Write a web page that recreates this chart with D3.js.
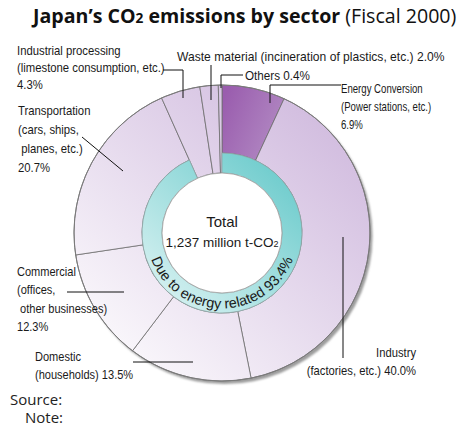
<!DOCTYPE html>
<html>
<head>
<meta charset="utf-8">
<script src="https://cdn.jsdelivr.net/npm/d3@7"></script>
<style>
  html, body { margin: 0; padding: 0; background: #fff; }
  svg { display: block; }
  .lbl { font-family: "Liberation Sans", Arial, sans-serif; font-size: 13px; fill: #1a1a1a; }
</style>
</head>
<body>
<svg id="chart" width="459" height="430"></svg>
<script>
// ---- Data ----
const sectors = ["Energy Conversion", "Industry", "Domestic", "Commercial", "Transportation", "Industrial processing", "Waste material", "Others"];
const shares = [6.9, 40.0, 13.5, 12.3, 20.7, 4.3, 2.0, 0.4];
const energyRelated = [true, true, true, true, true, false, false, false];
const energyShareLabel = "93.4%";
const totalLabel = "1,237 million t-CO";

// label text lines per sector (same order as sectors)
const labelLines = [
  ["Energy Conversion", "(Power stations, etc.)", "6.9%"],
  ["Industry", "(factories, etc.) 40.0%"],
  ["Domestic", "(households) 13.5%"],
  ["Commercial", "(offices,", " other businesses)", "12.3%"],
  ["Transportation", "(cars, ships,", " planes, etc.)", "20.7%"],
  ["Industrial processing", "(limestone consumption, etc.)", "4.3%"],
  ["Waste material (incineration of plastics, etc.) 2.0%"],
  ["Others 0.4%"]
];

// ---- Layout ----
const W = 459, H = 430;
const cx = 222, cy = 233, R = 148, rRing = 80, rInner = 60;
const labelLayout = [
  {x: 341, y: 93, dy: 18, sx: 0.74, anchor: "start", leader: [[341, 85], [270, 85], [270, 103]]},
  {x: 416, y: 357, dy: 18, sx: 0.865, anchor: "end", leader: [[343, 237], [343, 358]]},
  {x: 35, y: 361, dy: 18, sx: 0.85, anchor: "start", leader: [[133, 362], [193, 362]]},
  {x: 17, y: 276, dy: 18.3, sx: 0.85, anchor: "start", leader: [[67, 292], [124, 292]]},
  {x: 18, y: 115, dy: 19, sx: 0.87, anchor: "start", leader: [[82, 137], [123, 171]]},
  {x: 17, y: 55, dy: 17, sx: 0.87, anchor: "start", leader: [[163, 70], [183, 70], [183, 98]]},
  {x: 177, y: 61, dy: 17, sx: 0.93, anchor: "start", leader: [[211, 65], [211, 100]]},
  {x: 245, y: 80, dy: 17, sx: 0.9, anchor: "start", leader: [[243, 75], [221, 75], [221, 88]]}
];

const svg = d3.select("#chart");
const defs = svg.append("defs");

function grad(id, x1, y1, x2, y2, c1, c2) {
  const lg = defs.append("linearGradient").attr("id", id)
    .attr("gradientUnits", "userSpaceOnUse")
    .attr("x1", x1 - cx).attr("y1", y1 - cy).attr("x2", x2 - cx).attr("y2", y2 - cy);
  lg.append("stop").attr("offset", 0).attr("stop-color", c1);
  lg.append("stop").attr("offset", 1).attr("stop-color", c2);
}
grad("pieGrad", 340, 110, 110, 360, "#d0bade", "#fbf9fc");
grad("energyGrad", 225, 95, 295, 125, "#9a5dae", "#b48ec5");
grad("ringGrad", 285, 165, 160, 300, "#6ccbcc", "#d6f1f1");

const blur = defs.append("filter").attr("id", "shadowBlur")
  .attr("x", "-10%").attr("y", "-10%").attr("width", "120%").attr("height", "120%");
blur.append("feGaussianBlur").attr("stdDeviation", 1.2);

// ---- Title ----
const title = svg.append("text").attr("x", 33).attr("y", 23)
  .style("font-family", "'Open Sans', 'Noto Sans', sans-serif").style("font-size", "19.6px").attr("fill", "#111");
title.append("tspan").style("font-weight", "bold").text("Japan’s CO");
title.append("tspan").style("font-weight", "bold").style("font-size", "13.7px").text("2");
title.append("tspan").style("font-weight", "bold").text(" emissions by sector");
title.append("tspan").text(" (Fiscal 2000)");

// ---- Pie ----
const g = svg.append("g").attr("transform", `translate(${cx},${cy})`);
const pie = d3.pie().sort(null).value(d => d)(shares);

// shadow
g.append("circle").attr("cx", 2.5).attr("cy", 3).attr("r", R)
  .attr("fill", "#9c9c9c").attr("filter", "url(#shadowBlur)");

const arc = d3.arc()
  .innerRadius(d => energyRelated[d.index] ? rRing : rInner)
  .outerRadius(R);

g.selectAll("path.slice").data(pie).join("path")
  .attr("class", "slice")
  .attr("d", arc)
  .attr("fill", d => d.index === 0 ? "url(#energyGrad)" : "url(#pieGrad)")
  .attr("stroke", "#6f6f6f").attr("stroke-width", 0.8);

// ring for energy related
const energyEnd = d3.max(pie.filter(d => energyRelated[d.index]), d => d.endAngle);
g.append("path")
  .attr("d", d3.arc()({innerRadius: rInner, outerRadius: rRing, startAngle: 0, endAngle: energyEnd}))
  .attr("fill", "url(#ringGrad)")
  .attr("stroke", "#8fa8a8").attr("stroke-width", 0.8);

// outer outline
g.append("circle").attr("r", R).attr("fill", "none").attr("stroke", "#7a7a7a").attr("stroke-width", 1);

// white centre
g.append("circle").attr("r", rInner).attr("fill", "#fff").attr("stroke", "#9a9a9a").attr("stroke-width", 0.8);

// curved text
const rText = 75.5;
const a1 = 262 * Math.PI / 180, a2 = 98 * Math.PI / 180;
const px = a => (rText * Math.sin(a)).toFixed(2), py = a => (-rText * Math.cos(a)).toFixed(2);
defs.append("path").attr("id", "ringTextPath")
  .attr("d", `M${px(a1)},${py(a1)} A${rText},${rText} 0 0 0 ${px(a2)},${py(a2)}`);
g.append("text").attr("class", "lbl").style("font-size", "14.4px")
  .append("textPath").attr("href", "#ringTextPath")
  .attr("startOffset", "50%").attr("text-anchor", "middle")
  .text("Due to energy related " + energyShareLabel);

// centre labels
g.append("text").attr("class", "lbl").attr("text-anchor", "middle").attr("y", -6)
  .style("font-size", "15px").text("Total");
const tot = g.append("text").attr("class", "lbl").attr("text-anchor", "middle").attr("y", 14)
  .style("font-size", "13.5px");
tot.append("tspan").text(totalLabel);
tot.append("tspan").style("font-size", "9px").text("2");

// ---- Labels & leaders ----
const line = d3.line();
labelLayout.forEach((L, i) => {
  svg.append("path").attr("d", line(L.leader)).attr("fill", "none")
    .attr("stroke", "#111").attr("stroke-width", 1);
  const t = svg.append("text").attr("class", "lbl").attr("text-anchor", L.anchor)
    .attr("xml:space", "preserve")
    .attr("transform", `translate(${L.x},${L.y}) scale(${L.sx},1)`);
  labelLines[i].forEach((s, j) => {
    t.append("tspan").attr("x", 0).attr("y", j * L.dy).text(s);
  });
});

// ---- Source / Note ----
svg.append("text").attr("x", 10).attr("y", 405)
  .style("font-family", "'Open Sans', 'Noto Sans', sans-serif").style("font-size", "15px").attr("fill", "#222").text("Source:");
svg.append("text").attr("x", 25).attr("y", 423)
  .style("font-family", "'Open Sans', 'Noto Sans', sans-serif").style("font-size", "15px").attr("fill", "#222").text("Note:");
</script>
</body>
</html>
